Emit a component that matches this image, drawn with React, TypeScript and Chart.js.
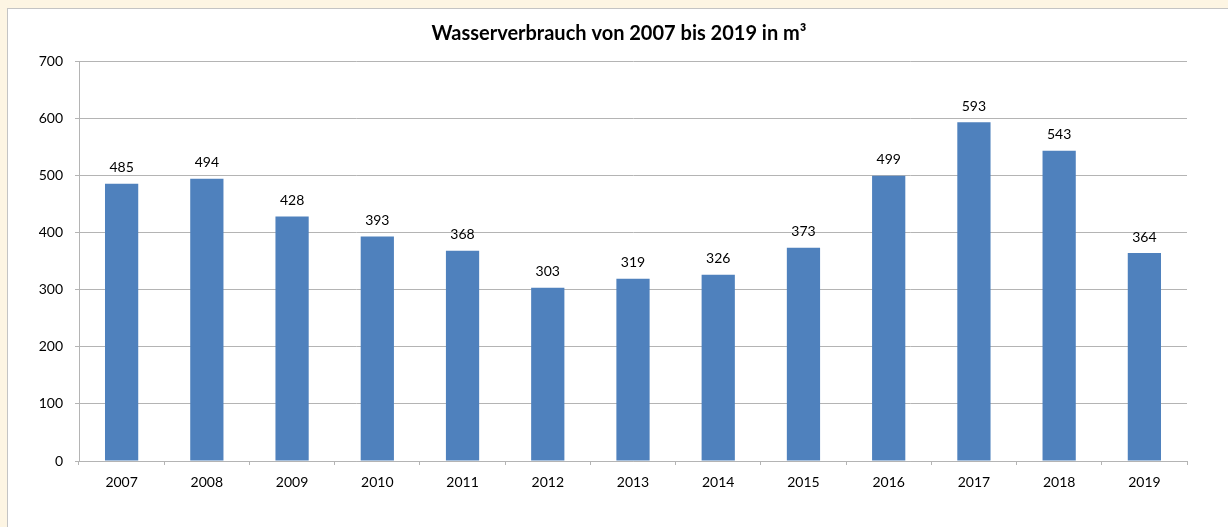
import React, { useEffect, useRef } from "react";
import { Chart, registerables } from "chart.js";

Chart.register(...registerables);

const categories = ["2007", "2008", "2009", "2010", "2011", "2012", "2013", "2014", "2015", "2016", "2017", "2018", "2019"];
const consumption = [485, 494, 428, 393, 368, 303, 319, 326, 373, 499, 593, 543, 364];
const yTicks = [0, 100, 200, 300, 400, 500, 600, 700];
const titleText = "Wasserverbrauch von 2007 bis 2019 in m³";

const FONT = "Lato, 'Open Sans', sans-serif";

const valueLabels = {
  id: "valueLabels",
  afterDatasetsDraw(chart: any) {
    const { ctx } = chart;
    const meta = chart.getDatasetMeta(0);
    const data = chart.data.datasets[0].data as number[];
    ctx.save();
    ctx.font = `14px ${FONT}`;
    ctx.fillStyle = "#000000";
    ctx.textAlign = "center";
    ctx.textBaseline = "middle";
    meta.data.forEach((bar: any, i: number) => {
      ctx.fillText(String(data[i]), bar.x, bar.y - 16);
    });
    ctx.restore();
  },
};

export default function App() {
  const ref = useRef<HTMLCanvasElement | null>(null);
  useEffect(() => {
    if (!ref.current) return;
    const chart = new Chart(ref.current, {
      type: "bar",
      data: {
        labels: categories,
        datasets: [
          {
            data: consumption,
            backgroundColor: "#4F81BD",
            borderWidth: 0,
            categoryPercentage: 1,
            barPercentage: 0.39,
          },
        ],
      },
      options: {
        animation: false,
        responsive: false,
        maintainAspectRatio: false,
        layout: { padding: { left: 10, right: 0, top: 0, bottom: 0 } },
        plugins: {
          legend: { display: false },
          tooltip: { enabled: false },
          title: {
            display: true,
            text: titleText,
            color: "#000000",
            font: { family: FONT, size: 20, weight: "bold", lineHeight: 1.2 },
            padding: { top: 22, bottom: 15 },
          },
        },
        scales: {
          x: {
            offset: true,
            grid: {
              display: true,
              drawOnChartArea: false,
              drawTicks: true,
              tickLength: 4,
              color: "#B4B4B4",
              offset: true,
            },
            border: { display: true, color: "#B4B4B4", width: 1 },
            ticks: {
              color: "#000000",
              font: { family: FONT, size: 14 },
              padding: 9,
              maxRotation: 0,
              autoSkip: false,
            },
            afterFit: (scale: any) => {
              scale.height = 66;
            },
          },
          y: {
            min: 0,
            max: 700,
            afterBuildTicks: (scale: any) => {
              scale.ticks = yTicks.map((v) => ({ value: v }));
            },
            grid: {
              display: true,
              drawOnChartArea: true,
              drawTicks: true,
              tickLength: 4,
              color: "#B4B4B4",
            },
            border: { display: true, color: "#B4B4B4", width: 1 },
            ticks: {
              color: "#000000",
              font: { family: FONT, size: 14 },
              padding: 12,
            },
            afterFit: (scale: any) => {
              scale.width = 69;
            },
          },
          spacer: {
            type: "linear",
            position: "right",
            display: true,
            min: 0,
            max: 700,
            grid: { display: false, drawOnChartArea: false, drawTicks: false },
            border: { display: false },
            ticks: { display: false },
            afterFit: (scale: any) => {
              scale.width = 41;
            },
          },
        },
      },
      plugins: [valueLabels],
    });
    return () => chart.destroy();
  }, []);

  return (
    <div style={{ position: "absolute", left: 0, top: 0, width: 1228, height: 527, background: "#FDF5E3", overflow: "hidden" }}>
      <div
        style={{
          position: "absolute",
          left: 7,
          top: 8,
          width: 1221,
          height: 519,
          background: "#FFFFFF",
          borderLeft: "1px solid #C4C4C4",
          borderTop: "1px solid #C4C4C4",
          boxSizing: "border-box",
        }}
      />
      <canvas ref={ref} width={1228} height={527} style={{ position: "absolute", left: 0, top: 0, width: 1228, height: 527 }} />
    </div>
  );
}
